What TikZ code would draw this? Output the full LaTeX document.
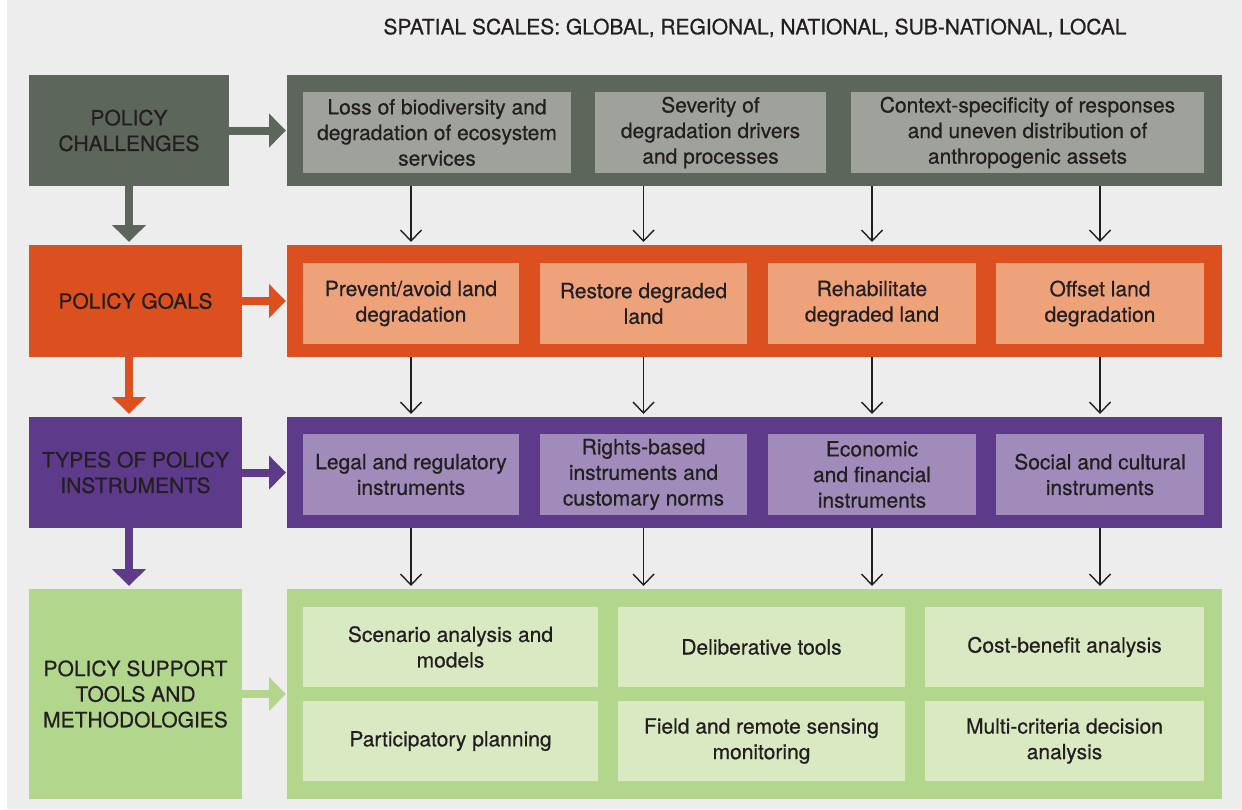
\documentclass[tikz,border=0pt]{standalone}
\usepackage{fontspec}
\setmainfont{TeX Gyre Heros}[FakeBold=0.6]
\usetikzlibrary{arrows.meta}
\definecolor{bg}{HTML}{EDEDED}
\definecolor{txt}{HTML}{231F20}
\definecolor{chD}{HTML}{5D665B}
\definecolor{chL}{HTML}{9FA29A}
\definecolor{goD}{HTML}{DC501F}
\definecolor{goL}{HTML}{EEA27A}
\definecolor{tyD}{HTML}{5E3A8B}
\definecolor{tyL}{HTML}{A08BBA}
\definecolor{suD}{HTML}{B2D78C}
\definecolor{suL}{HTML}{D9EAC3}
\tikzset{
  rect/.style={rectangle, inner sep=0pt, outer sep=0pt, draw=none, text=txt,
    align=center, font=\fontsize{21}{25.6}\selectfont},
  thick arrow/.style={line width=8pt, -{Triangle[length=17pt,width=33pt]}, shorten >=1pt},
  thin arrow/.style={line width=1.4pt, draw=txt, -{Straight Barb[length=11pt,width=21pt,line width=1.4pt]}, shorten >=3pt}
}
% box: name, x1, y1, x2, y2, fill, text
\newcommand{\pbox}[7]{\node[rect, fill=#6, minimum width={#4pt-#2pt}, minimum height={#5pt-#3pt}]
  (#1) at ({(#2+#4)/2},{(#3+#5)/2}) {#7};}
\begin{document}
\begin{tikzpicture}[x=1pt,y=-1pt]
\useasboundingbox (0,0) rectangle (1242,809);
\fill[bg] (7,0) rectangle (1242,809);
\node[rect] (title) at (755,28) {SPATIAL SCALES: GLOBAL, REGIONAL, NATIONAL, SUB-NATIONAL, LOCAL};
% row 1
\pbox{cl}{29}{75}{229}{186}{chD}{POLICY\\CHALLENGES}
\pbox{cp}{287}{75}{1222}{186}{chD}{}
\pbox{c1}{303}{92}{571}{173}{chL}{Loss of biodiversity and\\degradation of ecosystem\\services}
\pbox{c2}{595}{92}{826}{173}{chL}{Severity of\\degradation drivers\\and processes}
\pbox{c3}{851}{92}{1204}{173}{chL}{Context-specificity of responses\\and uneven distribution of\\anthropogenic assets}
% row 2
\pbox{gl}{29}{245}{242}{357}{goD}{POLICY GOALS}
\pbox{gp}{287}{245}{1222}{357}{goD}{}
\pbox{g1}{303}{263}{519}{344}{goL}{Prevent/avoid land\\degradation}
\pbox{g2}{540}{263}{747}{344}{goL}{Restore degraded\\land}
\pbox{g3}{768}{263}{976}{344}{goL}{Rehabilitate\\degraded land}
\pbox{g4}{996}{263}{1204}{344}{goL}{Offset land\\degradation}
% row 3
\pbox{tl}{29}{417}{242}{528}{tyD}{TYPES OF POLICY\\INSTRUMENTS}
\pbox{tp}{287}{417}{1222}{528}{tyD}{}
\pbox{t1}{303}{434}{519}{515}{tyL}{Legal and regulatory\\instruments}
\pbox{t2}{540}{434}{747}{515}{tyL}{Rights-based\\instruments and\\customary norms}
\pbox{t3}{768}{434}{976}{515}{tyL}{Economic\\and financial\\instruments}
\pbox{t4}{996}{434}{1204}{515}{tyL}{Social and cultural\\instruments}
% row 4
\pbox{sl}{29}{589}{242}{799}{suD}{POLICY SUPPORT\\TOOLS AND\\METHODOLOGIES}
\pbox{sp}{287}{589}{1222}{799}{suD}{}
\pbox{s1}{303}{607}{598}{687}{suL}{Scenario analysis and\\models}
\pbox{s2}{618}{607}{905}{687}{suL}{Deliberative tools}
\pbox{s3}{925}{607}{1204}{687}{suL}{Cost-benefit analysis}
\pbox{s4}{303}{701}{598}{781}{suL}{Participatory planning}
\pbox{s5}{618}{701}{905}{781}{suL}{Field and remote sensing\\monitoring}
\pbox{s6}{925}{701}{1204}{781}{suL}{Multi-criteria decision\\analysis}
% thick arrows
\draw[thick arrow, draw=chD] (cl.east) -- (cp.west);
\draw[thick arrow, draw=goD] (gl.east) -- (gp.west);
\draw[thick arrow, draw=tyD] (tl.east) -- (tp.west);
\draw[thick arrow, draw=suD] (sl.east) -- (sp.west);
\draw[thick arrow, draw=chD, shorten >=3pt] (cl.south) -- (cl.south |- gl.north);
\draw[thick arrow, draw=goD, shorten >=3pt] (cl.south |- gl.south) -- (cl.south |- tl.north);
\draw[thick arrow, draw=tyD, shorten >=3pt] (cl.south |- tl.south) -- (cl.south |- sl.north);
% thin arrows
\foreach \i in {1,2,3,4}{
  \draw[thin arrow] (g\i |- cp.south) -- (g\i |- gp.north);
  \draw[thin arrow] (g\i |- gp.south) -- (g\i |- tp.north);
  \draw[thin arrow] (g\i |- tp.south) -- (g\i |- sp.north);
}
\end{tikzpicture}
\end{document}
